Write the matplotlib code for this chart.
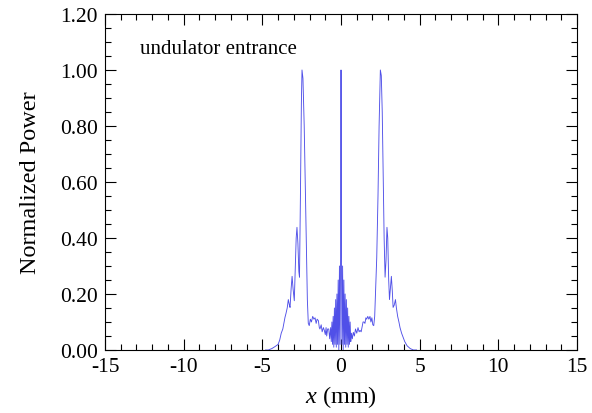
import matplotlib
matplotlib.use("Agg")
import matplotlib.pyplot as plt
from matplotlib.ticker import MultipleLocator

plt.rcParams['font.family'] = ['Liberation Serif', 'DejaVu Serif']
plt.rcParams['mathtext.fontset'] = 'custom'
plt.rcParams['mathtext.it'] = 'Liberation Serif:italic'
plt.rcParams['mathtext.rm'] = 'Liberation Serif'
plt.rcParams['axes.unicode_minus'] = False

# values
x_left = [-4.8, -4.62, -4.4, -4.2, -4.0, -3.9, -3.8, -3.7, -3.62, -3.56, -3.5,
          -3.42, -3.35, -3.28, -3.24, -3.17, -3.11, -3.05, -2.97, -2.9, -2.85,
          -2.80, -2.74, -2.68, -2.64, -2.58, -2.52, -2.48, -2.42, -2.34, -2.27,
          -2.20, -2.14, -2.08, -2.02, -1.95, -1.88, -1.80, -1.72, -1.65, -1.58,
          -1.52, -1.44, -1.38, -1.34, -1.26, -1.20, -1.12, -1.06, -1.0, -0.95,
          -0.91, -0.85, -0.78, -0.72, -0.66, -0.62]
y_left = [0.0, 0.0, 0.005, 0.012, 0.02, 0.035, 0.06, 0.075, 0.10, 0.117, 0.13,
          0.15, 0.18, 0.16, 0.152, 0.22, 0.263, 0.22, 0.176, 0.30, 0.40,
          0.438, 0.38, 0.28, 0.26, 0.55, 0.88, 1.0, 0.97, 0.80, 0.58,
          0.36, 0.18, 0.095, 0.087, 0.11, 0.10, 0.12, 0.11, 0.115, 0.095,
          0.11, 0.105, 0.08, 0.075, 0.09, 0.065, 0.08, 0.07, 0.055, 0.08,
          0.05, 0.075, 0.075, 0.04, 0.08, 0.03]

x_center = [-0.58, -0.54, -0.50, -0.46, -0.42, -0.38, -0.34, -0.30, -0.26,
            -0.22, -0.18, -0.14, -0.10, -0.06, -0.03, -0.01, 0.0, 0.01, 0.03,
            0.06, 0.10, 0.14, 0.18, 0.22, 0.26, 0.30, 0.34, 0.38, 0.42, 0.46,
            0.50, 0.54, 0.58]
y_center = [0.10, 0.02, 0.12, 0.01, 0.15, 0.02, 0.18, 0.01, 0.20,
            0.02, 0.25, 0.0, 0.30, 0.02, 0.29, 0.5, 1.0, 0.5, 0.29,
            0.02, 0.30, 0.0, 0.25, 0.02, 0.20, 0.01, 0.18, 0.02, 0.15, 0.01,
            0.12, 0.02, 0.10]

x_right = [0.62, 0.66, 0.72, 0.78, 0.85, 0.92, 1.0, 1.08, 1.15, 1.21, 1.28,
           1.35, 1.40, 1.46, 1.52, 1.58, 1.63, 1.70, 1.77, 1.84, 1.90, 1.96,
           2.02, 2.08, 2.14, 2.20, 2.27, 2.35, 2.42, 2.50, 2.56, 2.62, 2.69,
           2.74, 2.80, 2.86, 2.92, 2.97, 3.03, 3.08, 3.14, 3.20, 3.26, 3.31,
           3.38, 3.46, 3.52, 3.60, 3.68, 3.75, 3.85, 3.95, 4.05, 4.2, 4.4,
           4.6, 4.8]
y_right = [0.03, 0.06, 0.04, 0.063, 0.05, 0.075, 0.06, 0.08, 0.065, 0.07, 0.065,
           0.085, 0.10, 0.10, 0.095, 0.115, 0.11, 0.12, 0.11, 0.12, 0.10, 0.115,
           0.09, 0.087, 0.12, 0.22, 0.33, 0.55, 0.80, 1.0, 0.98, 0.85, 0.60,
           0.40, 0.26, 0.32, 0.438, 0.40, 0.25, 0.18, 0.22, 0.263, 0.21, 0.152,
           0.16, 0.18, 0.15, 0.12, 0.10, 0.08, 0.06, 0.045, 0.03, 0.015, 0.005,
           0.0, 0.0]

x = x_left + x_center + x_right
y = y_left + y_center + y_right

fig = plt.figure(figsize=(5.92, 4.14), dpi=100)
ax = fig.add_axes([0.1774, 0.1522, 0.7973, 0.8116])
ax.plot(x, y, color='#5050e8', lw=0.65)

ax.set_xlim(-15, 15)
ax.set_ylim(0, 1.2)
ax.xaxis.set_major_locator(MultipleLocator(5))
ax.xaxis.set_minor_locator(MultipleLocator(1))
ax.yaxis.set_major_locator(MultipleLocator(0.2))
ax.yaxis.set_minor_locator(MultipleLocator(0.05))
ax.yaxis.set_major_formatter(lambda v, p: '%.2f' % v)
ax.tick_params(which='both', direction='in', top=True, right=True,
               labelsize=15.5, width=0.8)
ax.tick_params(which='major', length=8, pad=5)
ax.tick_params(which='minor', length=4)
for s in ax.spines.values():
    s.set_linewidth(0.8)

ax.set_xlabel(r'$x$ (mm)', fontsize=17.5, labelpad=5)
ax.set_ylabel('Normalized Power', fontsize=17.5, labelpad=14)
ax.text(-12.8, 1.075, 'undulator entrance', fontsize=15, va='center')

fig.savefig('out.png', dpi=100)
